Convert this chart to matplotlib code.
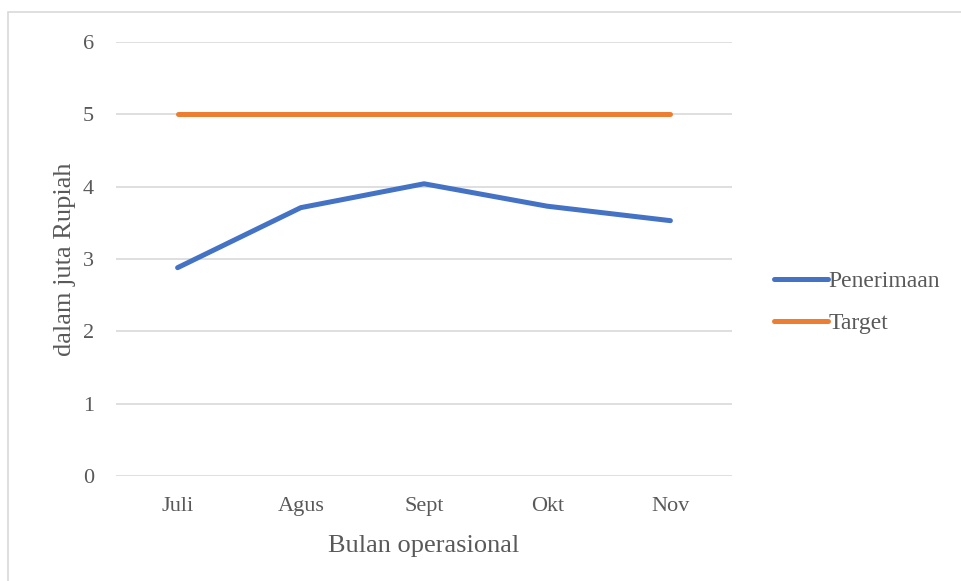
import matplotlib
matplotlib.use("Agg")
import matplotlib.pyplot as plt
from matplotlib.patches import Rectangle

months = ["Juli", "Agus", "Sept", "Okt", "Nov"]
penerimaan = [2.88, 3.71, 4.04, 3.73, 3.53]
target = [5, 5, 5, 5, 5]
yticks = [0, 1, 2, 3, 4, 5, 6]

plt.rcParams['font.family'] = ['Liberation Serif', 'DejaVu Serif']

fig = plt.figure(figsize=(9.62, 5.81), dpi=100)
W, H = 962, 581
ax = fig.add_axes([116 / W, 1 - 476 / H, (732 - 116) / W, (476 - 42) / H])

x = list(range(len(months)))
ax.plot(x, penerimaan, color="#4472C4", lw=3.6, solid_capstyle="round", label="Penerimaan", zorder=3)
ax.plot(x, target, color="#ED7D31", lw=3.6, solid_capstyle="round", label="Target", zorder=3)

ax.set_xlim(-0.5, len(months) - 0.5)
ax.set_ylim(0, 6)
ax.set_yticks(yticks)
ax.set_xticks(x)
ax.set_xticklabels(months)
ax.yaxis.grid(True, color="#D9D9D9", lw=1.2)
ax.set_axisbelow(True)
for s in ax.spines.values():
    s.set_visible(False)
ax.tick_params(axis="both", length=0, labelsize=16, colors="#595959")
ax.tick_params(axis="y", pad=16)
ax.tick_params(axis="x", pad=15)
ax.set_xlabel("Bulan operasional", fontsize=19, color="#595959", labelpad=14)
ax.set_ylabel("dalam juta Rupiah", fontsize=19, color="#595959", labelpad=5)

leg = fig.legend(loc="center left", bbox_to_anchor=(774 / W, 1 - 302.5 / H), frameon=False,
                 borderpad=0, borderaxespad=0,
                 fontsize=17, handlelength=2.3, handletextpad=0.0, labelspacing=0.85,
                 labelcolor="#595959")

fig.patches.append(Rectangle((8 / W, -0.05), 1.1, 0.05 + 1 - 12 / H, transform=fig.transFigure,
                             fill=False, edgecolor="#D9D9D9", lw=1.2))

fig.savefig("out.png", dpi=100)
